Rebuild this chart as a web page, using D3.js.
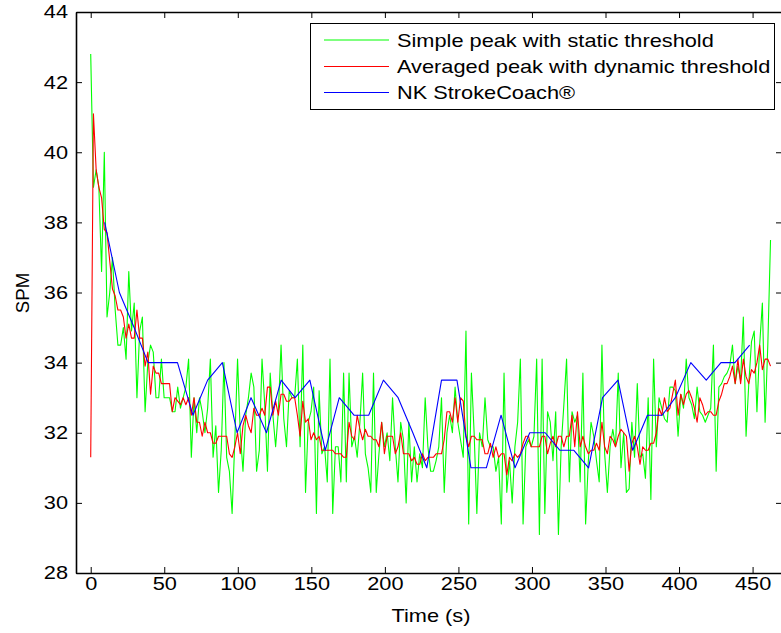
<!DOCTYPE html>
<html>
<head>
<meta charset="utf-8">
<script src="https://cdn.jsdelivr.net/npm/d3@7"></script>
<style>
  body { margin: 0; background: #fff; }
  svg { display: block; font-family: "Liberation Sans", Arial, Helvetica, sans-serif; }
</style>
</head>
<body>
<div id="spmChart"></div>
<script>
const timeTicks = [0, 50, 100, 150, 200, 250, 300, 350, 400, 450]
const spmTicks = [28, 30, 32, 34, 36, 38, 40, 42, 44]
const seriesNames = [
  "Simple peak with static threshold",
  "Averaged peak with dynamic threshold",
  "NK StrokeCoach®",
]

// both peak detectors give one value per stroke, spread over the recording
const recordSeconds = 462.2

const simplePeak = [
  42.8, 39.0, 39.5, 39.0, 36.6, 40.0, 35.3, 36.0, 37.0, 35.5, 34.5,
  34.5, 35.0, 34.1, 36.6, 34.9, 35.7, 33.0, 34.9, 35.3, 32.6, 34.0,
  34.5, 34.3, 33.0, 33.0, 34.1, 33.0, 33.0, 33.0, 32.6, 32.6, 33.3,
  32.7, 33.0, 33.3, 34.1, 31.3, 33.0, 32.0, 33.0, 32.6, 32.0, 32.7,
  34.1, 31.3, 32.2, 30.3, 31.5, 34.0, 31.3, 30.9, 29.7, 31.8, 34.1,
  32.0, 30.9, 32.5, 33.0, 33.7, 33.3, 30.9, 31.5, 34.1, 32.8, 30.9,
  33.7, 32.5, 31.6, 32.6, 34.5, 32.4, 31.6, 33.2, 33.0, 33.0, 34.1,
  31.6, 34.5, 30.3, 32.3, 32.6, 33.3, 29.7, 33.2, 31.4, 31.6, 30.6,
  34.1, 29.7, 31.6, 31.6, 30.6, 33.7, 30.6, 33.7, 31.6, 31.9, 31.3,
  32.3, 33.7, 31.4, 31.0, 30.3, 33.7, 30.3, 31.4, 32.3, 31.6, 32.0,
  31.2, 33.0, 31.6, 30.6, 32.3, 31.8, 30.0, 32.3, 30.6, 31.6, 30.6,
  31.4, 31.0, 33.0, 31.6, 30.9, 30.9, 31.2, 31.6, 33.0, 30.3, 32.0,
  32.5, 32.0, 33.3, 32.3, 31.8, 31.3, 34.9, 29.4, 33.7, 32.0, 29.7,
  32.0, 31.6, 33.0, 31.8, 31.6, 31.6, 30.9, 31.3, 29.4, 33.7, 30.3,
  31.2, 30.0, 31.6, 32.3, 34.1, 29.4, 31.6, 31.8, 31.6, 31.9, 34.1,
  29.1, 34.1, 29.7, 32.6, 32.3, 31.2, 32.6, 29.1, 31.6, 32.8, 34.1,
  30.6, 32.6, 32.3, 32.5, 30.6, 33.7, 29.4, 31.2, 32.3, 31.9, 31.2,
  30.6, 34.5, 31.4, 30.3, 31.6, 32.1, 31.6, 33.7, 31.0, 32.0, 30.3,
  30.4, 32.3, 31.3, 33.4, 31.3, 31.4, 30.7, 33.0, 30.1, 34.1, 31.6,
  33.0, 32.7, 32.4, 32.3, 33.3, 33.3, 33.2, 31.9, 33.1, 32.7, 34.1,
  33.0, 32.8, 32.4, 33.3, 32.6, 32.5, 32.3, 32.5, 32.7, 34.5, 30.9,
  33.3, 33.4, 33.6, 33.7, 33.9, 34.5, 33.4, 33.9, 33.5, 35.3, 31.9,
  33.4, 34.6, 34.9, 32.6, 34.5, 35.7, 32.3, 34.5, 37.5,
]

const averagedPeak = [
  31.3, 41.1, 39.5, 39.0, 38.7, 37.8, 37.7, 36.9, 36.1, 35.9, 35.5,
  35.5, 35.3, 34.7, 35.1, 34.7, 34.7, 35.5, 34.7, 34.7, 33.9, 34.3,
  33.1, 33.9, 33.7, 33.7, 33.4, 33.4, 33.4, 33.4, 32.6, 33.0, 32.9,
  32.8, 33.0, 32.8, 33.0, 32.5, 33.0, 32.3, 32.3, 31.9, 32.3, 32.0,
  32.0, 31.7, 31.7, 31.9, 31.9, 31.9, 31.9, 31.4, 31.3, 31.6, 32.0,
  31.4, 32.2, 32.5, 32.2, 32.0, 32.7, 32.5, 32.5, 32.7, 32.5, 33.3,
  33.3, 32.5, 32.9, 32.5, 33.1, 33.1, 32.9, 32.9, 33.0, 33.0, 32.5,
  31.9, 32.9, 32.3, 32.4, 31.8, 32.0, 31.8, 31.9, 31.5, 31.5, 31.5,
  31.5, 31.5, 31.4, 31.4, 31.4, 31.3, 31.3, 32.3, 31.9, 31.8, 32.5,
  32.1, 31.8, 32.1, 31.9, 31.9, 31.8, 31.8, 31.6, 32.3, 31.4, 31.9,
  31.9, 31.9, 31.4, 31.6, 32.0, 31.4, 31.4, 31.4, 31.2, 31.3, 31.1,
  31.1, 31.4, 31.2, 31.3, 31.3, 31.3, 31.4, 31.4, 31.4, 31.8, 32.6,
  32.6, 32.3, 33.0, 32.3, 33.0, 32.9, 31.9, 31.6, 31.9, 31.9, 31.8,
  31.8, 31.8, 31.4, 31.4, 31.7, 31.3, 31.6, 31.3, 31.4, 31.4, 30.8,
  31.3, 31.2, 31.4, 31.3, 31.4, 31.7, 31.9, 31.9, 31.6, 31.6, 31.6,
  31.6, 31.9, 31.9, 31.4, 31.7, 31.9, 31.6, 31.9, 31.9, 31.6, 31.9,
  31.9, 32.5, 31.6, 32.6, 31.6, 31.9, 31.6, 31.4, 31.5, 31.5, 31.7,
  31.5, 32.3, 31.6, 31.4, 31.9, 31.8, 31.6, 31.9, 32.1, 32.0, 31.9,
  30.9, 31.7, 31.9, 31.6, 31.1, 31.6, 31.5, 31.5, 31.7, 31.7, 32.0,
  32.7, 32.5, 33.0, 32.6, 32.7, 33.1, 33.5, 32.5, 33.1, 32.8, 33.1,
  33.2, 33.0, 32.7, 32.3, 33.0, 32.8, 32.5, 32.6, 32.6, 32.5, 32.5,
  32.9, 33.1, 33.4, 33.4, 33.6, 33.9, 33.4, 34.1, 33.4, 34.1, 33.6,
  33.4, 33.8, 33.7, 34.0, 34.5, 33.8, 34.1, 34.1, 33.9,
]

const coachTime = [
  9.5, 19.5, 29.5, 39, 49, 59, 69.5, 79.5, 89.5, 99.5, 109, 119.5,
  129.5, 139, 149, 159.5, 169, 179, 189, 199, 209, 219, 228.5, 238.5,
  249, 258.5, 269, 279, 288.5, 298.5, 309, 319, 328.5, 338.5, 348, 358.5,
  368.5, 378.5, 388.5, 397.5, 408, 418.5, 428.5, 438, 448,
]
const coachSpm = [
  38, 36, 35, 34, 34, 34, 32.5, 33.5, 34, 32, 33, 32,
  33.5, 33, 33.5, 31.5, 33, 32.5, 32.5, 33.5, 33, 32, 31, 33.5,
  33.5, 31, 31, 32.5, 31, 32, 32, 31.5, 31.5, 31, 33, 33.5,
  31.5, 32.5, 32.5, 33, 34, 33.5, 34, 34, 34.5,
]

// the figure was saved wider than tall, text comes out a bit stretched
const TEXT_STRETCH = 1.17
const FONT_SIZE = 18.6

class SpmChart {
  constructor() {
    this.width = 781
    this.height = 633
    this.plot = { left: 76, right: 782, top: 12, bottom: 573 }

    this.svg = d3
      .select("#spmChart")
      .append("svg")
      .attr("width", this.width)
      .attr("height", this.height)

    this.x = d3
      .scaleLinear()
      .domain([-10, 470])
      .range([this.plot.left, this.plot.right])
    this.y = d3
      .scaleLinear()
      .domain([28, 44])
      .range([this.plot.bottom, this.plot.top])

    this.render()
  }

  stretch(selection) {
    selection.each(function () {
      const w = this.getComputedTextLength()
      d3.select(this)
        .attr("textLength", w * TEXT_STRETCH)
        .attr("lengthAdjust", "spacingAndGlyphs")
    })
  }

  render() {
    this.svg
      .append("defs")
      .append("clipPath")
      .attr("id", "plotClip")
      .append("rect")
      .attr("x", this.plot.left)
      .attr("y", this.plot.top)
      .attr("width", this.plot.right - this.plot.left)
      .attr("height", this.plot.bottom - this.plot.top)

    const step = (arr) => recordSeconds / (arr.length - 1)
    const strokes = (arr) => arr.map((v, i) => ({ t: i * step(arr), v }))
    const coach = coachTime.map((t, i) => ({ t, v: coachSpm[i] }))

    const line = d3
      .line()
      .x((d) => this.x(d.t))
      .y((d) => this.y(d.v))

    const series = [
      { name: seriesNames[0], color: "#00ff00", data: strokes(simplePeak) },
      { name: seriesNames[1], color: "#ff0000", data: strokes(averagedPeak) },
      { name: seriesNames[2], color: "#0000ff", data: coach },
    ]

    this.svg
      .append("g")
      .attr("clip-path", "url(#plotClip)")
      .selectAll(".spm-line")
      .data(series)
      .join("path")
      .attr("class", "spm-line")
      .attr("fill", "none")
      .attr("stroke", (d) => d.color)
      .attr("stroke-width", 1.1)
      .attr("stroke-linejoin", "round")
      .attr("d", (d) => line(d.data))

    this.drawAxes()
    this.drawLegend(series)
  }

  drawAxes() {
    const styleAxis = (g) => {
      g.attr("font-family", null).attr("font-size", FONT_SIZE)
      g.select(".domain").attr("stroke", "#000").attr("stroke-width", 1.6)
      g.selectAll(".tick line").attr("stroke", "#000").attr("stroke-width", 1)
      g.selectAll(".tick text").attr("fill", "#000")
    }

    const xAxis = this.svg
      .append("g")
      .attr("transform", `translate(0,${this.plot.bottom})`)
      .call(
        d3
          .axisBottom(this.x)
          .tickValues(timeTicks)
          .tickSizeInner(-6)
          .tickSizeOuter(0)
          .tickPadding(4)
      )
      .call(styleAxis)
    xAxis.selectAll(".tick text").call((s) => this.stretch(s))

    this.svg
      .append("g")
      .attr("transform", `translate(0,${this.plot.top})`)
      .call(
        d3
          .axisTop(this.x)
          .tickValues(timeTicks)
          .tickSizeInner(-6)
          .tickSizeOuter(0)
          .tickFormat("")
      )
      .call(styleAxis)

    const yAxis = this.svg
      .append("g")
      .attr("transform", `translate(${this.plot.left},0)`)
      .call(
        d3
          .axisLeft(this.y)
          .tickValues(spmTicks)
          .tickSizeInner(-6)
          .tickSizeOuter(0)
          .tickPadding(8)
      )
      .call(styleAxis)
    yAxis.selectAll(".tick text").call((s) => this.stretch(s))

    this.svg
      .append("g")
      .attr("transform", `translate(${this.plot.right},0)`)
      .call(
        d3
          .axisRight(this.y)
          .tickValues(spmTicks)
          .tickSizeInner(-6)
          .tickSizeOuter(0)
          .tickFormat("")
      )
      .call(styleAxis)

    this.svg
      .append("text")
      .attr("x", 431)
      .attr("y", 622)
      .attr("text-anchor", "middle")
      .attr("font-size", FONT_SIZE)
      .text("Time (s)")
      .call((s) => this.stretch(s))

    this.svg
      .append("text")
      .attr("transform", "translate(29,293) rotate(-90)")
      .attr("text-anchor", "middle")
      .attr("font-size", FONT_SIZE)
      .text("SPM")
  }

  drawLegend(series) {
    const legend = this.svg.append("g").attr("class", "legend")
    const rowY = [40, 66.5, 92.5]

    legend
      .append("rect")
      .attr("x", 310.5)
      .attr("y", 23.5)
      .attr("width", 464)
      .attr("height", 86)
      .attr("fill", "#fff")
      .attr("stroke", "#000")
      .attr("stroke-width", 1)

    const rows = legend
      .selectAll(".legend-row")
      .data(series)
      .join("g")
      .attr("class", "legend-row")
      .attr("transform", (d, i) => `translate(0,${rowY[i]})`)

    rows
      .append("line")
      .attr("x1", 324)
      .attr("x2", 389)
      .attr("stroke", (d) => d.color)
      .attr("stroke-width", 1.1)

    rows
      .append("text")
      .attr("x", 397)
      .attr("dy", "0.35em")
      .attr("font-size", FONT_SIZE)
      .text((d) => d.name)
      .call((s) => this.stretch(s))
  }
}

new SpmChart()
</script>
</body>
</html>
